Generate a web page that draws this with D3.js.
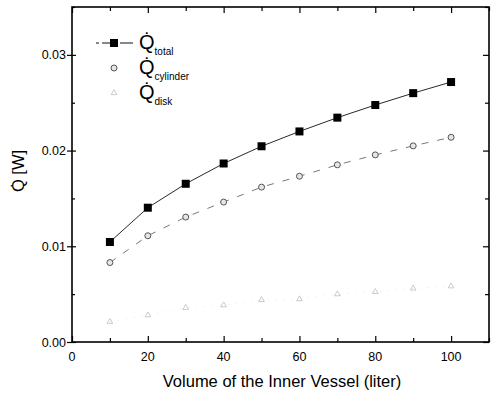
<!DOCTYPE html>
<html><head><meta charset="utf-8">
<script src="https://cdn.jsdelivr.net/npm/d3@7"></script>
<style>body{margin:0;background:#fff}svg{display:block}text{font-family:"Liberation Sans",Arial,sans-serif}</style>
</head><body>
<svg id="c" width="492" height="393"></svg>
<script>
const volumes = [10,20,30,40,50,60,70,80,90,100];
const qTotal = [0.01045,0.01403,0.01653,0.01865,0.02045,0.0220,0.02344,0.02476,0.0260,0.02716];
const qCylinder = [0.0083,0.0111,0.01305,0.01462,0.01618,0.01732,0.01851,0.01955,0.02049,0.02139];
const qDisk = [0.00212,0.0028,0.00357,0.00385,0.0044,0.00448,0.0050,0.00524,0.0056,0.00583];
const xTicks = [0,20,40,60,80,100];
const yTicks = [0,0.01,0.02,0.03];

const svg = d3.select('#c');
const L=72, R=489, T=7, B=342;
const x = d3.scaleLinear().domain([0,110]).range([L,R]);
const y = d3.scaleLinear().domain([0,0.035]).range([B,T]);

// frame
svg.append('rect').attr('x',L).attr('y',T).attr('width',R-L).attr('height',B-T)
  .attr('fill','none').attr('stroke','#000').attr('stroke-width',1.6);

// bottom axis (inward ticks)
const gx = svg.append('g').attr('transform',`translate(0,${B})`)
  .call(d3.axisTop(x).tickValues(d3.range(0,111,10)).tickSize(5).tickFormat(''));
gx.select('.domain').remove();
gx.selectAll('line').attr('stroke','#000').attr('stroke-width',1.2)
  .attr('y2',d=>d%20===0?-6:-4);
svg.append('g').selectAll('text').data(xTicks).join('text')
  .attr('x',d=>x(d)).attr('y',B+19).attr('text-anchor','middle')
  .attr('font-size',12.5).text(d=>d);
// top axis
const gt = svg.append('g').attr('transform',`translate(0,${T})`)
  .call(d3.axisBottom(x).tickValues(d3.range(0,111,10)).tickSize(5).tickFormat(''));
gt.select('.domain').remove();
gt.selectAll('line').attr('stroke','#000').attr('stroke-width',1.2)
  .attr('y2',d=>d%20===0?6:4);

// left axis
const gl = svg.append('g').attr('transform',`translate(${L},0)`)
  .call(d3.axisLeft(y).tickValues(d3.range(0,0.0351,0.005)).tickSize(4).tickFormat(''));
gl.select('.domain').remove();
gl.selectAll('line').attr('stroke','#000').attr('stroke-width',1.2)
  .attr('x1',d=>Math.round(d*1000)%10===0?4:3).attr('x2',d=>Math.round(d*1000)%10===0?-5:0);
svg.append('g').selectAll('text').data(yTicks).join('text')
  .attr('x',L-6).attr('y',d=>y(d)+4.5).attr('text-anchor','end')
  .attr('font-size',12.5).text(d=>d.toFixed(2));
// right axis
const gr = svg.append('g').attr('transform',`translate(${R},0)`)
  .call(d3.axisRight(y).tickValues(d3.range(0,0.0351,0.005)).tickSize(4).tickFormat(''));
gr.select('.domain').remove();
gr.selectAll('line').attr('stroke','#000').attr('stroke-width',1.2)
  .attr('x2',d=>Math.round(d*1000)%10===0?-6:-4);

// series
const line = d3.line().x((d,i)=>x(volumes[i])).y(d=>y(d));
svg.append('path').datum(qTotal).attr('d',line).attr('fill','none')
  .attr('stroke','#111').attr('stroke-width',0.9);
svg.append('path').datum(qCylinder).attr('d',line).attr('fill','none')
  .attr('stroke','#555').attr('stroke-width',0.8).attr('stroke-dasharray','7,9');
svg.append('path').datum(qDisk).attr('d',line).attr('fill','none')
  .attr('stroke','#ccc').attr('stroke-width',0.5).attr('stroke-dasharray','1,7');

svg.append('g').selectAll('rect').data(qTotal).join('rect')
  .attr('x',(d,i)=>x(volumes[i])-4).attr('y',d=>y(d)-4).attr('width',8).attr('height',8)
  .attr('fill','#000');
svg.append('g').selectAll('circle').data(qCylinder).join('circle')
  .attr('cx',(d,i)=>x(volumes[i])).attr('cy',d=>y(d)).attr('r',3)
  .attr('fill','#e6e6e6').attr('stroke','#555').attr('stroke-width',1);
const tri = d3.symbol().type(d3.symbolTriangle).size(14);
svg.append('g').selectAll('path').data(qDisk).join('path')
  .attr('transform',(d,i)=>`translate(${x(volumes[i])},${y(d)})`).attr('d',tri)
  .attr('fill','none').attr('stroke','#b5b5b5').attr('stroke-width',0.7);

// legend
const lg = svg.append('g');
lg.append('line').attr('x1',96).attr('x2',133).attr('y1',43).attr('y2',43)
  .attr('stroke','#111').attr('stroke-width',1).attr('stroke-dasharray','3,3,12,0');
lg.append('rect').attr('x',110).attr('y',39).attr('width',8).attr('height',8).attr('fill','#000');
lg.append('circle').attr('cx',114).attr('cy',68).attr('r',3).attr('fill','#e6e6e6').attr('stroke','#555').attr('stroke-width',1);
lg.append('path').attr('transform','translate(114,93)').attr('d',tri).attr('fill','none').attr('stroke','#b5b5b5').attr('stroke-width',0.7);
const labs = [['total',43],['cylinder',68],['disk',93]];
labs.forEach(([s,yy])=>{
  const t = lg.append('text').attr('x',139).attr('y',yy+6).attr('font-size',20);
  t.append('tspan').text('Q\u0307');
  t.append('tspan').attr('font-size',10).attr('dy',6).text(s);
});

// axis titles
svg.append('text').attr('x',282).attr('y',387).attr('text-anchor','middle')
  .attr('font-size',16.5).text('Volume of the Inner Vessel (liter)');
svg.append('text').attr('transform','translate(24,171) rotate(-90)').attr('text-anchor','middle')
  .attr('font-size',16.5).text('Q\u0307 [W]');
</script>
</body></html>
